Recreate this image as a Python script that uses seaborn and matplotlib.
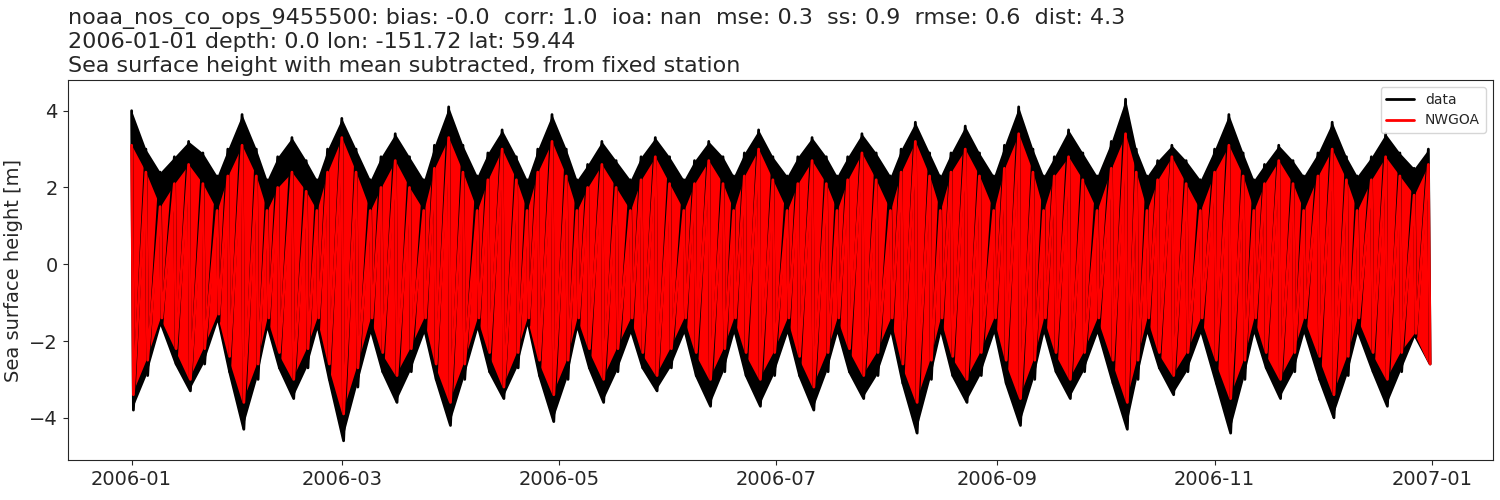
import matplotlib
matplotlib.use("Agg")
import matplotlib.pyplot as plt
import seaborn as sns
import pandas as pd
import numpy as np

sns.set_style("ticks")
plt.rcParams['font.family'] = ['DejaVu Sans']

# sample dates: spring, mid, neap, mid ...
dates = ["2006-01-01","2006-01-05","2006-01-09","2006-01-13","2006-01-17","2006-01-21","2006-01-25","2006-01-28",
         "2006-02-01","2006-02-05","2006-02-08","2006-02-11","2006-02-15","2006-02-19","2006-02-22","2006-02-25",
         "2006-03-01","2006-03-05","2006-03-09","2006-03-12","2006-03-16","2006-03-20","2006-03-24","2006-03-27",
         "2006-03-31","2006-04-04","2006-04-08","2006-04-11","2006-04-15","2006-04-19","2006-04-22","2006-04-25",
         "2006-04-29","2006-05-03","2006-05-06","2006-05-09","2006-05-13","2006-05-17","2006-05-21","2006-05-24",
         "2006-05-28","2006-06-01","2006-06-05","2006-06-08","2006-06-12","2006-06-16","2006-06-19","2006-06-22",
         "2006-06-26","2006-06-30","2006-07-04","2006-07-07","2006-07-11","2006-07-15","2006-07-18","2006-07-21",
         "2006-07-25","2006-07-29","2006-08-02","2006-08-05","2006-08-09","2006-08-13","2006-08-16","2006-08-19",
         "2006-08-23","2006-08-27","2006-08-31","2006-09-03","2006-09-07","2006-09-11","2006-09-14","2006-09-17",
         "2006-09-21","2006-09-25","2006-09-29","2006-10-03","2006-10-07","2006-10-10","2006-10-13","2006-10-16",
         "2006-10-20","2006-10-24","2006-10-28","2006-11-01","2006-11-05","2006-11-09","2006-11-12","2006-11-15",
         "2006-11-19","2006-11-23","2006-11-26","2006-11-30","2006-12-04","2006-12-08","2006-12-11","2006-12-15",
         "2006-12-19","2006-12-23","2006-12-27","2006-12-31"]
data_high = [4.0,3.0,2.4,2.8,3.2,2.9,2.3,3.0,
             3.9,3.0,2.2,2.8,3.3,2.7,2.2,3.0,
             3.8,3.0,2.2,2.8,3.4,2.8,2.2,3.1,
             4.1,3.1,2.3,2.9,3.5,2.8,2.2,3.0,
             3.9,3.0,2.2,2.6,3.2,2.7,2.2,2.8,
             3.3,2.8,2.2,2.7,3.2,2.8,2.3,2.9,
             3.5,2.8,2.3,2.8,3.3,2.8,2.3,2.8,
             3.4,2.9,2.3,3.0,3.7,2.9,2.3,2.9,
             3.6,2.9,2.3,3.1,4.1,3.0,2.3,2.8,
             3.5,2.9,2.3,3.2,4.3,3.0,2.3,2.7,
             3.1,2.7,2.2,3.0,3.9,2.9,2.2,2.6,
             3.1,2.7,2.3,2.9,3.7,2.8,2.3,2.8,
             3.4,2.9,2.5,3.0]
data_low = [-3.8,-2.9,-1.6,-2.6,-3.3,-2.6,-1.5,-2.8,
            -4.3,-3.0,-1.7,-2.7,-3.5,-2.7,-1.7,-3.0,
            -4.6,-3.2,-1.8,-2.8,-3.6,-2.8,-1.8,-3.0,
            -4.2,-3.0,-1.7,-2.8,-3.5,-2.7,-1.6,-2.9,
            -4.1,-3.0,-1.7,-2.7,-3.6,-2.8,-1.8,-2.7,
            -3.3,-2.7,-1.8,-2.9,-3.7,-2.8,-1.8,-2.9,
            -3.7,-2.9,-1.8,-2.9,-3.8,-2.8,-1.8,-2.8,
            -3.5,-2.9,-1.8,-3.1,-4.4,-3.0,-1.8,-2.9,
            -3.6,-2.9,-1.8,-3.1,-4.2,-3.0,-1.8,-2.8,
            -3.5,-2.8,-1.8,-3.1,-4.3,-3.0,-1.8,-2.7,
            -3.4,-2.8,-1.8,-3.1,-4.4,-3.0,-1.8,-2.7,
            -3.5,-2.8,-1.8,-3.0,-4.0,-2.9,-1.8,-2.8,
            -3.7,-2.8,-1.9,-2.6]
model_high = [3.1,2.4,1.5,2.1,2.6,2.1,1.4,2.3,
              3.1,2.3,1.4,2.0,2.4,1.9,1.4,2.4,
              3.3,2.4,1.4,2.0,2.7,2.0,1.4,2.5,
              3.3,2.4,1.4,2.2,3.0,2.2,1.4,2.4,
              3.2,2.3,1.4,2.0,2.6,2.0,1.4,2.2,
              2.8,2.1,1.4,2.1,2.7,2.1,1.4,2.3,
              3.0,2.2,1.4,2.1,2.7,2.1,1.4,2.2,
              2.9,2.2,1.4,2.4,3.2,2.3,1.4,2.4,
              3.0,2.3,1.4,2.5,3.4,2.4,1.4,2.3,
              2.8,2.2,1.4,2.5,3.4,2.4,1.4,2.2,
              2.8,2.1,1.4,2.4,3.1,2.3,1.4,2.1,
              2.7,2.1,1.4,2.3,3.0,2.2,1.4,2.2,
              2.8,2.3,1.8,2.6]
model_low = [-3.4,-2.5,-1.4,-2.2,-3.0,-2.2,-1.3,-2.4,
             -3.6,-2.6,-1.4,-2.3,-3.0,-2.2,-1.4,-2.6,
             -3.9,-2.7,-1.4,-2.3,-2.9,-2.2,-1.4,-2.6,
             -3.6,-2.6,-1.4,-2.3,-3.2,-2.3,-1.4,-2.5,
             -3.4,-2.5,-1.4,-2.2,-3.0,-2.2,-1.4,-2.3,
             -2.9,-2.2,-1.4,-2.3,-3.0,-2.2,-1.4,-2.3,
             -3.0,-2.3,-1.4,-2.4,-3.2,-2.3,-1.4,-2.2,
             -2.9,-2.3,-1.4,-2.6,-3.6,-2.5,-1.4,-2.4,
             -3.0,-2.3,-1.4,-2.5,-3.5,-2.5,-1.4,-2.3,
             -3.0,-2.3,-1.4,-2.5,-3.6,-2.5,-1.4,-2.3,
             -2.9,-2.3,-1.4,-2.5,-3.5,-2.5,-1.4,-2.3,
             -3.0,-2.3,-1.4,-2.4,-3.4,-2.4,-1.4,-2.3,
             -3.0,-2.3,-1.8,-2.6]

t = pd.to_datetime(dates)
fig, ax = plt.subplots(figsize=(15, 5), dpi=100)

for hi, lo, c, lab in [(data_high, data_low, "black", "data"), (model_high, model_low, "red", "NWGOA")]:
    ax.fill_between(t, lo, hi, color=c, lw=0)
    zz = pd.DataFrame({"time": list(t) + list(t + pd.Timedelta(hours=12)),
                       "ssh": hi + lo}).sort_values("time")
    sns.lineplot(data=zz, x="time", y="ssh", ax=ax, color=c, lw=2, label=lab)

ax.set_xlim(pd.Timestamp("2005-12-14"), pd.Timestamp("2007-01-18"))
ax.set_ylim(-5.1, 4.8)
ax.set_xticks(pd.to_datetime(["2006-01-01","2006-03-01","2006-05-01","2006-07-01","2006-09-01","2006-11-01","2007-01-01"]))
ax.set_xticklabels(["2006-01","2006-03","2006-05","2006-07","2006-09","2006-11","2007-01"])
ax.set_yticks([-4, -2, 0, 2, 4])
ax.tick_params(labelsize=14)
ax.set_xlabel("")
ax.set_ylabel("Sea surface height [m]", fontsize=14)
ax.set_title("noaa_nos_co_ops_9455500: bias: -0.0  corr: 1.0  ioa: nan  mse: 0.3  ss: 0.9  rmse: 0.6  dist: 4.3\n"
             "2006-01-01 depth: 0.0 lon: -151.72 lat: 59.44\n"
             "Sea surface height with mean subtracted, from fixed station", loc="left", fontsize=16)
ax.legend(loc="upper right", fontsize=10)
fig.subplots_adjust(left=0.045, right=0.995, top=0.84, bottom=0.08)
fig.savefig("out.png")
